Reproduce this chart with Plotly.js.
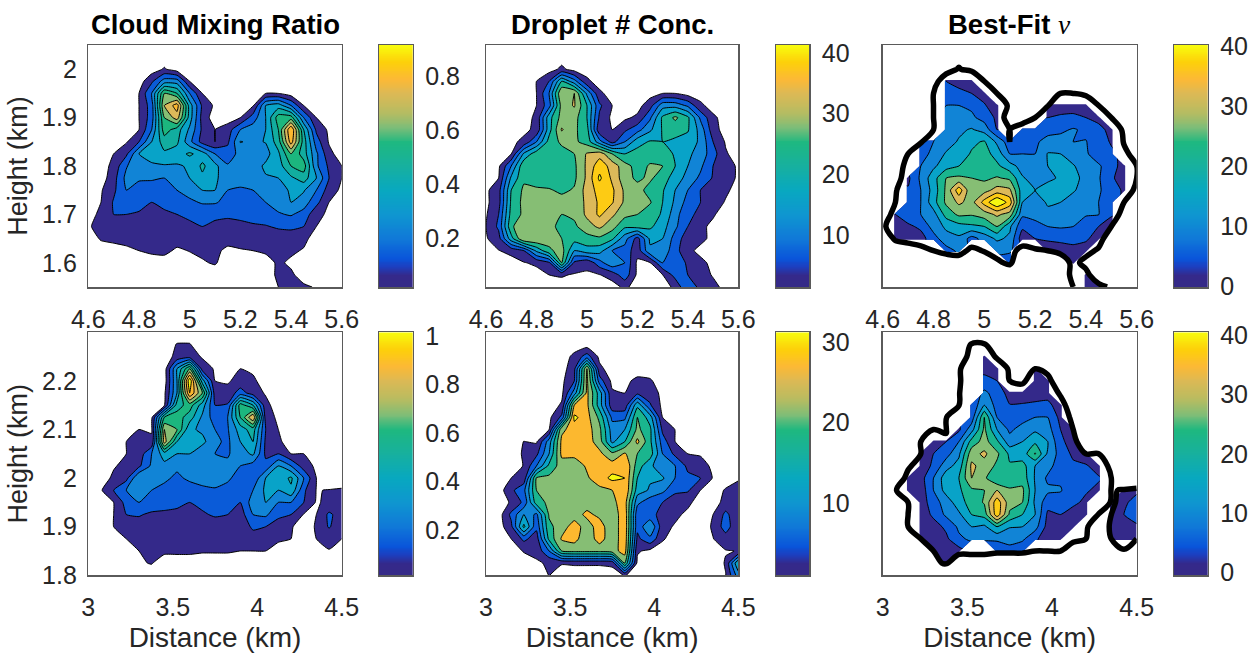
<!DOCTYPE html>
<html><head><meta charset="utf-8">
<script src="https://cdn.plot.ly/plotly-3.0.1.min.js"></script>
<style>html,body{margin:0;padding:0;background:#fff}#g{width:1248px;height:653px}</style>
</head><body><div id="g"></div>
<script>
const q=-0.05, d=-2, N=null;
const xTop=[4.6,4.65,4.7,4.75,4.8,4.85,4.9,4.95,5,5.05,5.1,5.15,5.2,5.25,5.3,5.35,5.4,5.45,5.5,5.55,5.6];
const xBot=[3,3.075,3.15,3.225,3.3,3.375,3.45,3.525,3.6,3.675,3.75,3.825,3.9,3.975,4.05,4.125,4.2,4.275,4.35,4.425,4.5];
const yTop=[2.05,2.025,2,1.975,1.95,1.925,1.9,1.875,1.85,1.825,1.8,1.775,1.75,1.725,1.7,1.675,1.65,1.625,1.6,1.575,1.55];
const yBot=[2.3,2.275,2.25,2.225,2.2,2.175,2.15,2.125,2.1,2.075,2.05,2.025,2,1.975,1.95,1.925,1.9,1.875,1.85,1.825,1.8];

// Cloud mixing ratio, top row (q = outside the cloud)
const cmrTop=[
[],[],
[q,q,q,q,q,q,.01],
[q,q,q,q,q,.08,.25,.25,0],
[q,q,q,q,0,.2,.6,.5,.2,0,q,q,q,q,0,0],
[q,q,q,q,0,.15,.7,.85,.35,.08,-.02,q,q,-.01,.3,.35,.2,0],
[q,q,q,q,0,.15,.6,.75,.35,.06,q,q,0,.15,.3,.55,.55,.2,0],
[q,q,q,q,0,.2,.55,.45,.28,.08,0,.05,.2,.25,.3,.5,.9,.4,.08,-.02],
[q,q,q,-.01,.1,.3,.45,.42,.23,.06,0,.08,.305,.28,.305,.45,.85,.45,.15,-.01],
[q,q,0,.08,.3,.35,.38,.35,.42,.35,.2,.15,.23,.22,.26,.38,.6,.45,.22,.03],
[q,q,.03,.19,.29,.28,.29,.29,.31,.42,.33,.21,.21,.25,.32,.35,.5,.55,.22,.08,0],
[q,q,.06,.23,.21,.21,.2,.25,.3,.38,.32,.24,.23,.3,.29,.3,.38,.45,.3,.1,0],
[q,-.01,.08,.2,.17,.16,.17,.2,.24,.3,.3,.2,.19,.2,.23,.27,.31,.31,.2,.05,-.02],
[q,0,.11,.19,.16,.1,.13,.15,.18,.21,.21,.17,.17,.18,.2,.24,.3,.25,.13,0],
[q,.03,.1,.1,.08,.08,.08,.1,.12,.13,.12,.11,.12,.13,.14,.19,.21,.16,.03,-.02],
[-.01,.03,.05,.06,.06,.05,.06,.07,.08,.1,.08,.08,.08,.09,.095,.11,.12,.1,0],
[q,.01,.03,.03,.03,.04,.04,.05,.05,.05,.05,.05,.05,.05,.05,.06,.05,.03],
[q,q,q,-.02,0,.02,.03,-.02,.005,.02,.03,-.03,-.01,0,.02,.03,.02,-.01],
[q,q,q,q,q,q,q,q,q,-.01,.01,q,q,q,q,.02,-.02],
[q,q,q,q,q,q,q,q,q,q,q,q,q,q,q,.02,.02],
[q,q,q,q,q,q,q,q,q,q,q,q,q,q,q,0,.03,.02,-.01]
];
// Droplet number concentration, top row
const ndTop=[
[],[],
[d,d,d,d,d,d,1],
[d,d,d,d,0,5,20,12,1],
[d,d,d,d,0,10,30,30,14,1,d,d,d,d,0,0],
[d,d,d,d,0,8,27,30.5,20,6,0,d,d,3,13,13,9,1],
[d,d,d,d,1,18,27,27,20,4,-1,-1,1,9,21,26,21,9,1],
[d,d,d,-1,1,18,30.5,26,22,1,0,4,8,14,20.5,22,20.5,13,2],
[d,d,-1,1,10,22,26,26,23,12,3,10,18,20.5,20,19,18,14,5,-.5],
[d,d,0,16,23,24,23,25,30.5,33,25,20,22,23,22,19.5,16,13,7,.5],
[d,-1,10,24,25,23,22,24,31,38,33,27,23,25.5,25,20,15,11,5,3,-1],
[d,0,16,24,22,22,22,24,31,41,34,27,24,26,22,18,13,9,4.5,3,-1],
[-1,3,20,26,26,25.5,24,25.5,32,37,36,29,27,23,20.5,15,10,5,3,1],
[-1,3,21,26.5,27,27,27,27,31,36,35.5,29,27,25.5,20,14,8,5,3,-.5],
[-.5,5,22,26,27,27,25,26,31,36,31,26.5,25,22,19.5,12,6,4,.5],
[0,6,24,29,27,27,23,24,28,31,27,21,22,21,17,11,5,1,-1],
[-.5,3,18,30,30,27,25,22,23,24,21,12,3,16,15,8,2,1,-1],
[d,-.2,1.5,5,16,24,27,15,18,17,10,8,2,14,13,7,1,-1],
[d,d,d,-.3,1,4,25,4,1,8,14,10,-1,-.3,10,9,4,1,-1],
[d,d,d,d,d,0,.5,-.5,-.5,-.2,2,8,-1,d,-.1,7,5,1.5,-.3],
[d,d,d,d,d,d,d,d,d,d,d,1,d,d,d,1,10,3,1,-1]
];
// Best-fit nu, top row (N = no retrieval)
const nuTop=[
[],[],[],
[N,N,N,N,N,5,3,2],
[N,N,N,N,N,8,6.5,5,3],
[N,N,N,N,N,10,10,9,5.5,2,N,N,N,1,2,3,2],
[N,N,N,N,N,11,12,11,8,4,N,N,N,5,6,6,5,3],
[N,N,N,N,N,11,14,15.5,13,5,N,6,7,8,9,10.5,9,7,3],
[N,N,N,5,10,13,15.5,19,20.5,14,7,7.5,9,12,12,10,10.2,7.5,4.5],
[N,N,N,7,12,15.5,17.5,20.5,22,18,10,10,10,15.3,15,12,10.5,8,6],
[N,N,N,10,14,18,20,21.5,21,21,17,13,12,15,17,15.5,12,10.5,8,2],
[N,N,4,11,18,25,26,25,24,25.5,24,15.5,13,14.5,15.3,16,14,10.5,6,2],
[N,N,5.5,10,17,26,38,25.5,28,32,31,17,15,16,16,15.5,13,10.5,8,4],
[N,N,6,10,18,26,31,28,37,45,38,15,13,15.5,15,13,11,10,6],
[N,5,8,10,13,22,26,25.5,27.5,31,28,11,11,14,13,12,10.5,10.2,5.5],
[N,4,4,6,12,16,18,19,20,25,16,6,9,10,10.5,10,7,5,3],
[N,2,2,3,8,13,14,8,12,16,14,2,5,5.5,6.5,7,6,2],
[N,N,N,N,N,8,11,N,N,11,11,N,N,3,2,3,2],
[N,N,N,N,N,N,N,N,N,N,6,N,N,N,N,1],
[N,N,N,N,N,N,N,N,N,N,N,N,N,N,N,N,1],
[N,N,N,N,N,N,N,N,N,N,N,N,N,N,N,N,1,1]
];
// Cloud mixing ratio, bottom row
const cmrBot=[
[],
[q,q,q,q,q,q,q,.005,.005],
[q,q,q,q,q,q,q,.03,.05,-.01],
[q,q,q,q,q,q,q,.3,.6,.05,-.01,q,0,-.02],
[q,q,q,q,q,q,q,.3,.98,.35,0,-.01,.03,.02],
[q,q,q,q,q,q,-.02,.3,.9,.6,.05,.03,.15,.05,-.01],
[q,q,q,q,q,q,-.01,.45,.55,.35,.1,.11,.55,.4,.03],
[q,q,q,q,q,-.02,.5,.55,.45,.28,.15,.2,.5,.8,.05,-.02],
[q,q,q,q,0,-.01,.7,.6,.32,.28,.2,.19,.35,.45,.1,0],
[q,q,q,0,.03,.02,.75,.4,.32,.33,.22,.18,.3,.4,.08,.02],
[q,q,q,0,.04,.2,.35,.3,.3,.22,.2,.19,.25,.32,.08,.1,0,0],
[q,q,-.01,.03,.08,.22,.27,.22,.25,.29,.25,.22,.2,.15,.13,.3,.2,.05,-.02],
[q,q,.02,.07,.3,.22,.22,.18,.22,.25,.28,.22,.15,.12,.3,.33,.42,.2,0],
[q,-.01,.1,.2,.3,.2,.17,.14,.15,.17,.18,.16,.11,.2,.32,.3,.38,.12,-.003,.003,.01],
[q,q,0,.14,.2,.17,.12,.12,.1,.12,.14,.12,.1,.25,.3,.2,.2,.1,-.01,.02,.03],
[q,q,0,.1,.11,.08,.09,.08,.08,.09,.11,.1,.05,.2,.22,.12,.1,-.005,0,.12,.05],
[q,q,0,.05,.05,.05,.05,.06,.05,.05,.06,.08,.03,.12,.1,.06,.01,q,.01,.11,.03],
[q,q,q,0,.03,.03,.03,.03,.03,.03,.03,.03,.02,.05,.03,.02,0,q,0,.03,0],
[q,q,q,q,0,.02,.02,.02,.02,.01,.01,.01,0,0,0,q,q,q,-.01,-.005],
[q,q,q,q,-.01,.005],
[]
];
// Droplet number concentration, bottom row
const ndBot=[
[],[],
[d,d,d,d,d,d,d,1,6,-1],
[d,d,d,d,d,d,d,3,24,1],
[d,d,d,d,d,d,-1,4,25,6,-1,-1,1,.5],
[d,d,d,d,d,d,-1,10,25,14,.5,0,3,2,-1],
[d,d,d,d,d,d,.5,24,25,14,1.5,1.5,15,4.5,-1],
[d,d,d,d,d,-1,5,29,25.5,19,7,7,20,14,0,-1],
[d,d,d,d,-.5,0,23,26,26,21,10,12,21,17,3,-.1],
[d,d,d,.1,-.5,10,25,25,26,22,11,16,25,17,6,0],
[d,d,d,.5,3,12,25,25,25,25,21,24.5,20,18,8,3,0,-.5],
[d,d,d,.2,8,17,22,22,24.5,26,26,28,18,13,9,8,3,2,-1],
[d,d,0,1.5,20.5,21,22,22,23.5,26,29,28,16,12.5,12.5,7.9,5,4,-.3,-.5,-.3],
[d,d,3,7,20,20.5,21,22,24,23,24,28,14,11.5,9,5,4.5,0,-.5,.1,1],
[d,d,.5,5,18,21,22,22,22,23.5,23,26,9,5.5,4,1.5,1,d,d,1.5,1],
[d,d,5,12,7,20.5,21,22,25,23,21,27,5,5,3,1,-1,d,0,5,1],
[d,d,3,17,5,19,22,26,22,26,21,27,5,12,1.5,-.5,d,d,.5,6,.5],
[d,d,0,5,2,17,24.5,25.5,21,26,21,27,3,7,.5,d,d,d,-.1,2,0],
[d,d,d,.3,1,8,20,21,21,21,22,26,.5,-1,d,d,d,d,-.5,-.2,.1],
[d,d,d,d,-.5,.5,.3,.5,.5,.5,1,20,-1,d,d,d,d,d,d,.3,16],
[d,d,d,d,d,.1,d,d,d,d,d,.3,d,d,d,d,d,d,d,-.1,10]
];
// Best-fit nu, bottom row
const nuBot=[
[],[],
[N,N,N,N,N,N,N,N,2],
[N,N,N,N,N,N,N,N,3,2,N,N,1],
[N,N,N,N,N,N,N,N,7,5,N,N,1,1],
[N,N,N,N,N,N,N,N,11,8,3,2,2.5,3.5],
[N,N,N,N,N,N,N,5.5,15,8,5.2,5.5,6,6,3],
[N,N,N,N,N,N,N,7,25,10,8,8,10,10,3.5],
[N,N,N,N,N,N,4,13,26,15,9,12,14,12,5,2],
[N,N,N,N,3,5,10,22,27,21,12,15,19,15,6,3],
[N,N,N,2,5,8,14,28,31,26,19,17,25.5,14,8,4,2],
[N,N,N,2,6,13,17,31,28,24,20.5,22,15,12,7,6,5.5,3],
[N,N,2,3,10,18,20,30,26,20,20.5,23,14.5,9,9,7,6.5,5.5],
[N,N,2,2,10,17,19,24,25,30,26,26,15,11,10.5,6,5.5,4,N,3,4],
[N,N,N,2,8,12,18,22,25.5,38,27,25,14,7,7,6,4,N,2,4,7],
[N,N,N,2,6,11,14,20,22,38,24,20,15,4,5,3,2,N,2,5,8],
[N,N,N,1,3,6,11,15,14,20,15.3,15,12,3,2,1,N,N,1,3,4],
[N,N,N,1,2,4,9,11,10.5,11,12,11,6,2,1,N,N,N,1,1,1],
[N,N,N,N,1,2,3,N,N,6,8,6],
[N,N,N,N,N,1],
[]
];
// Colourbar ranges and ticks
const barCmrTop=[0.02,0.915], barNdTop=[1.4,41.3], barNuTop=[-0.2,40.2];
const barCmrBot=[0.015,1.015], barNdBot=[1.1,31.2], barNuBot=[-0.5,40.5];
const ticksCmrTop=[0.2,0.4,0.6,0.8], ticksNd10=[10,20,30,40], ticksNu=[0,10,20,30,40];
const ticksCmrBot=[0.2,0.4,0.6,0.8,1], ticksNdBot=[10,20,30];
const xTicksTop=[4.6,4.8,5,5.2,5.4,5.6], xTicksBot=[3,3.5,4,4.5];
const yTicksTop=[1.6,1.7,1.8,1.9,2], yTicksBot=[1.8,1.9,2,2.1,2.2];
const panelTitles=['<b>Cloud Mixing Ratio</b>','<b>Droplet # Conc.</b>','<b>Best-Fit </b><i style="font-family:\'Liberation Serif\',serif">ν</i>'];

const parula=[[0,'#352a87'],[.05,'#35298a'],[.085,'#1c3fc0'],[.12,'#0a55da'],[.2,'#1078d8'],[.3,'#0f96d0'],[.4,'#08a8c0'],[.5,'#17b09f'],[.6,'#1eb880'],[.66,'#7dbd78'],[.72,'#b5bc62'],[.8,'#dcb955'],[.86,'#fcb936'],[.93,'#fdd00a'],[1,'#f8fb0e']];
const T='rgba(255,255,255,0)',IND='#34298a',BL='#0a5bd8',MID='#1184d6',TE='#08a3c8',GT='#1ab58e',GR='#86be74',TAN='#dcb95a',OR='#fcb82f',GO='#fdcb14',YE='#f6f80f';
const bandsCmr=[T,IND,BL,MID,TE,'#12ad9f','#1cb67e',GR,TAN,OR,YE];
const bandsNd=[T,IND,BL,MID,TE,GT,GR,TAN,GO,YE];
const bandsNu=[IND,BL,MID,TE,GT,GR,TAN,GO,YE];
const bandsNdBot=[T,IND,BL,MID,TE,GT,GR,OR,YE];
const scale=c=>c.map((col,i)=>[i/(c.length-1),col]);
const pad=(z,f)=>z.map(r=>r.concat(Array(21-r.length).fill(f)));

const W=1248,H=653;
const col=[[88.3,341.7],[486,738.3],[882.7,1136.7]], bar=[[379,412.7],[776,809.3],[1174,1207.7]];
const row=[[45,287],[332.3,575.3]];
const fx=a=>[a[0]/W,a[1]/W], fy=a=>[1-a[1]/H,1-a[0]/H];
const FONT='"Liberation Sans",Arial,sans-serif', TC='#262626', LC='#5a5a5a';
let traces=[],layout={width:W,height:H,margin:{l:0,r:0,t:0,b:0},paper_bgcolor:'#fff',plot_bgcolor:'#fff',showlegend:false,font:{family:FONT,color:TC,size:25},annotations:[]};

function contour(x,y,z,start,size,end,bands,ax){
  traces.push({type:'contour',x:x,y:y,z:z,xaxis:ax[0],yaxis:ax[1],autocontour:false,connectgaps:false,
    contours:{start:start,end:end,size:size,coloring:'fill',showlines:true},line:{color:'#000',width:1,smoothing:.45},
    colorscale:scale(bands),showscale:false,hoverinfo:'skip'});
}
function outline(x,y,z,ax){
  traces.push({type:'contour',x:x,y:y,z:z,xaxis:ax[0],yaxis:ax[1],autocontour:false,
    contours:{start:0,end:0,size:1,coloring:'none'},line:{color:'#000',width:5.5,smoothing:1},showscale:false,hoverinfo:'skip'});
}
let axN=0;
function axes(cx,r,xr,yr,xt,yt,xTitle,yTitle){
  axN++;const n=axN===1?'':axN;
  layout['xaxis'+n]={domain:fx(cx),range:xr,anchor:'y'+n,showgrid:false,zeroline:false,showline:true,mirror:true,linecolor:LC,linewidth:1.5,
    ticks:'',tickvals:xt,ticktext:xt?xt.map(String):undefined,showticklabels:!!xt,ticklabelstandoff:9,tickfont:{size:25,color:TC},
    title:xTitle?{text:xTitle,font:{size:28,color:TC},standoff:9}:undefined};
  layout['yaxis'+n]={domain:fy(r),range:yr,anchor:'x'+n,showgrid:false,zeroline:false,showline:true,mirror:true,linecolor:LC,linewidth:1.5,
    ticks:'',tickvals:yt,ticktext:yt?yt.map(String):undefined,showticklabels:!!yt,ticklabelstandoff:5,tickfont:{size:25,color:TC},
    title:yTitle?{text:yTitle,font:{size:27,color:TC},standoff:6}:undefined};
  return ['x'+n,'y'+n];
}
function colorbar(cx,r,rng,ticks){
  axN++;const n=axN;
  layout['xaxis'+n]={domain:fx(cx),range:[0,1],anchor:'y'+n,showgrid:false,zeroline:false,showline:true,mirror:true,linecolor:LC,linewidth:1.5,ticks:'',showticklabels:false};
  layout['yaxis'+n]={domain:fy(r),range:rng,anchor:'x'+n,side:'right',showgrid:false,zeroline:false,showline:true,mirror:true,linecolor:LC,linewidth:1.5,ticks:'',
    tickvals:ticks,ticktext:ticks.map(String),ticklabelstandoff:6,tickfont:{size:25,color:TC}};
  const ys=[],zs=[];
  for(let i=0;i<=128;i++){const v=rng[0]+(rng[1]-rng[0])*i/128;ys.push(v);zs.push([i/128,i/128]);}
  traces.push({type:'heatmap',x:[0,1],y:ys,z:zs,zmin:0,zmax:1,colorscale:parula,showscale:false,xaxis:'x'+n,yaxis:'y'+n,hoverinfo:'skip',zsmooth:'best'});
}
let a;
a=axes(col[0],row[0],[4.6,5.6],[1.55,2.05],xTicksTop,yTicksTop,null,'Height (km)');
contour(xTop,yTop,pad(cmrTop,q),0,.1,.9,bandsCmr,a);
colorbar(bar[0],row[0],barCmrTop,ticksCmrTop);
a=axes(col[1],row[0],[4.6,5.6],[1.55,2.05],xTicksTop,null,null,null);
contour(xTop,yTop,pad(ndTop,d),0,5,40,bandsNd,a);
colorbar(bar[1],row[0],barNdTop,ticksNd10);
a=axes(col[2],row[0],[4.6,5.6],[1.55,2.05],xTicksTop,null,null,null);
contour(xTop,yTop,pad(nuTop,N),5,5,40,bandsNu,a);
outline(xTop,yTop,pad(cmrTop,q),a);
colorbar(bar[2],row[0],barNuTop,ticksNu);
a=axes(col[0],row[1],[3,4.5],[1.8,2.3],xTicksBot,yTicksBot,'Distance (km)','Height (km)');
contour(xBot,yBot,pad(cmrBot,q),0,.1,.9,bandsCmr,a);
colorbar(bar[0],row[1],barCmrBot,ticksCmrBot);
a=axes(col[1],row[1],[3,4.5],[1.8,2.3],xTicksBot,null,'Distance (km)',null);
contour(xBot,yBot,pad(ndBot,d),0,4,28,bandsNdBot,a);
colorbar(bar[1],row[1],barNdBot,ticksNdBot);
a=axes(col[2],row[1],[3,4.5],[1.8,2.3],xTicksBot,null,'Distance (km)',null);
contour(xBot,yBot,pad(nuBot,N),5,5,40,bandsNu,a);
outline(xBot,yBot,pad(cmrBot,q),a);
colorbar(bar[2],row[1],barNuBot,ticksNu);
col.forEach((c,i)=>layout.annotations.push({xref:'paper',yref:'paper',x:(c[0]+c[1])/2/W,y:1-25/H,xanchor:'center',yanchor:'middle',showarrow:false,text:panelTitles[i],font:{size:27.5,color:'#000'}}));
Plotly.newPlot('g',traces,layout,{displayModeBar:false,staticPlot:true});
</script></body></html>
